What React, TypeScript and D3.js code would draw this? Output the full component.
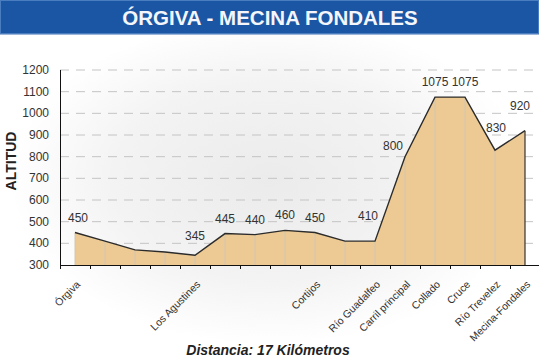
import React from "react";
import * as d3 from "d3";

// altitude profile, one entry per control point
const stops = [
  "Órgiva", "", "", "", "Los Agustines", "", "", "", "Cortijos", "",
  "Río Guadalfeo", "Carril principal", "Collado", "Cruce", "Río Trevelez", "Mecina-Fondales",
];
const altitude = [450, 410, 370, 360, 345, 445, 440, 460, 450, 410, 410, 800, 1075, 1075, 830, 920];
const shownLabels = [0, 4, 5, 6, 7, 8, 10, 11, 12, 13, 14, 15];
const yTicks = [300, 400, 500, 600, 700, 800, 900, 1000, 1100, 1200];

const title = "ÓRGIVA - MECINA FONDALES";
const xTitle = "Distancia: 17 Kilómetros";
const yTitle = "ALTITUD";

// label nudges (dx, dy) where the original moves them off the point
const nudge: Record<number, [number, number]> = {
  0: [3, -11],
  4: [0, -15],
  10: [-7, -21],
  11: [-12, -7],
  14: [1, -18],
  15: [-5, -21],
};

const W = 539;
const H = 361;

export default function App() {
  const x = d3.scaleBand<number>().domain(d3.range(stops.length)).range([60, 540]);
  const y = d3.scaleLinear().domain([300, 1200]).range([265, 70]);
  const cx = (i: number) => (x(i) as number) + x.bandwidth() / 2;

  const area = d3.area<number>()
    .x((d, i) => cx(i))
    .y0(y(300))
    .y1((d) => y(d));
  const line = d3.line<number>()
    .x((d, i) => cx(i))
    .y((d) => y(d));

  const font = "Arial, 'Liberation Sans', sans-serif";
  const last = altitude.length - 1;

  return (
    <svg width={W} height={H} style={{ position: "absolute", left: 0, top: 0 }} fontFamily={font}>
      <defs>
        <radialGradient id="bg" cx="0.5" cy="0.45" r="0.5" gradientUnits="objectBoundingBox">
          <stop offset="0" stopColor="#ebebeb" />
          <stop offset="0.6" stopColor="#f3f3f3" />
          <stop offset="1" stopColor="#ffffff" />
        </radialGradient>
      </defs>
      <rect width={W} height={H} fill="#fff" />
      <rect x={10} y={34} width={520} height={327} fill="url(#bg)" />

      {/* title bar */}
      <rect x={0} y={0} width={W} height={34} fill="#1b56a4" />
      <rect x={0.5} y={0.5} width={W - 1} height={33} fill="none" stroke="#4a7cc0" />
      <line x1={0} x2={W} y1={34.5} y2={34.5} stroke="#9db5d8" />
      <text x={270} y={25} textAnchor="middle" fill="#f4f6fb" fontSize={20.5} fontWeight="bold">{title}</text>

      {/* grid */}
      {yTicks.slice(1).map((t) => (
        <line key={t} x1={60} x2={538} y1={y(t)} y2={y(t)} stroke="#c4c4c4" strokeDasharray="9,7" />
      ))}

      {/* area */}
      <path d={area(altitude) ?? ""} fill="#edca93" />
      {altitude.map((d, i) => (
        <line key={i} x1={cx(i)} x2={cx(i)} y1={y(d)} y2={y(300)} stroke={i === last ? "#333" : "#d2c6b0"} strokeWidth={i === last ? 1.2 : 1} />
      ))}
      <path d={line(altitude) ?? ""} fill="none" stroke="#2b2b2b" strokeWidth={1.4} />

      {/* value labels */}
      {shownLabels.map((i) => {
        const [dx, dy] = nudge[i] ?? [0, -11];
        return (
          <text key={i} x={cx(i) + dx} y={y(altitude[i]) + dy} textAnchor="middle" fontSize={12} fill="#333">
            {altitude[i]}
          </text>
        );
      })}

      {/* y axis */}
      <line x1={60.5} x2={60.5} y1={70} y2={265} stroke="#111" />
      {yTicks.map((t) => (
        <text key={t} x={49} y={y(t) + 4} textAnchor="end" fontSize={12} fill="#333">{t}</text>
      ))}
      <text transform={`translate(16,${161}) rotate(-90)`} textAnchor="middle" fontSize={14} fontWeight="bold" fill="#222">{yTitle}</text>

      {/* x axis */}
      <line x1={60} x2={539} y1={265.5} y2={265.5} stroke="#111" />
      {d3.range(stops.length + 1).map((i) => (
        <line key={i} x1={60.5 + i * x.bandwidth()} x2={60.5 + i * x.bandwidth()} y1={265} y2={269} stroke="#111" />
      ))}
      {stops.map((s, i) => s && (
        <text key={i} transform={`translate(${cx(i) + 6},${285}) rotate(-45)`} textAnchor="end" fontSize={10.5} fill="#333">{s}</text>
      ))}
      <text x={268} y={355} textAnchor="middle" fontSize={14} fontWeight="bold" fontStyle="italic" fill="#222">{xTitle}</text>
    </svg>
  );
}
